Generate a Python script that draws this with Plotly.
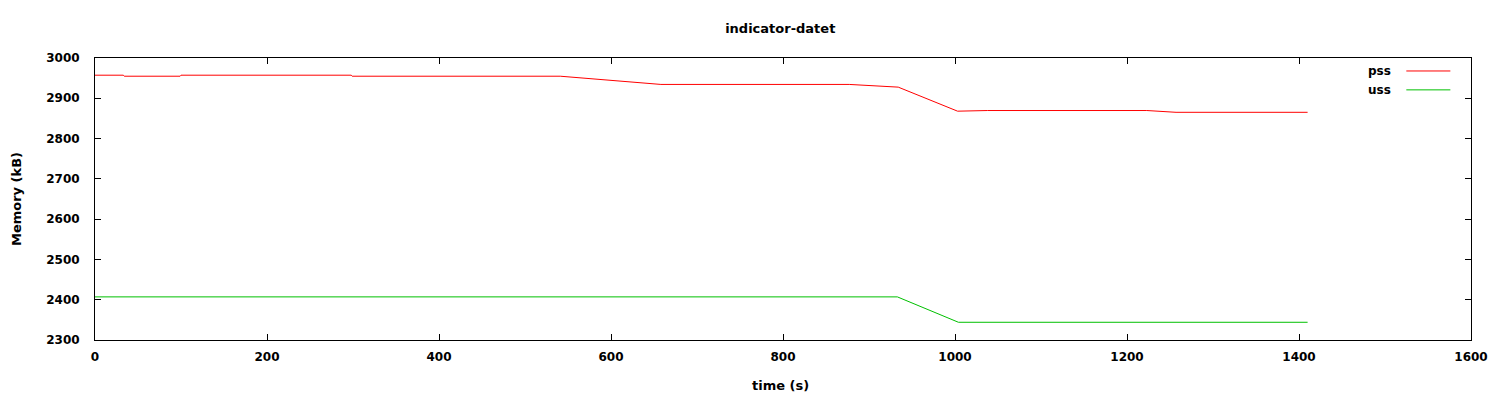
import plotly.graph_objects as go

title = "indicator-datet"
x_label = "time (s)"
y_label = "Memory (kB)"
series_names = ["pss", "uss"]

pss_t = [0, 33, 34, 99, 100, 298, 299, 541, 658, 877, 934, 1003, 1038, 1223, 1257, 1410]
pss_v = [2957.3, 2957.3, 2954.8, 2954.8, 2957.3, 2957.3, 2954.8, 2954.8, 2934.4, 2934.4, 2927.7, 2868, 2869.6, 2869.6, 2865.2, 2865.2]

uss_t = [0, 933, 1004, 1410]
uss_v = [2407, 2407, 2344, 2344]

x_ticks = [0, 200, 400, 600, 800, 1000, 1200, 1400, 1600]
y_ticks = [2300, 2400, 2500, 2600, 2700, 2800, 2900, 3000]

colors = ["#ff0000", "#00c000"]
font = "DejaVu Sans"

fig = go.Figure()
fig.add_trace(go.Scatter(x=pss_t, y=pss_v, mode="lines", name=series_names[0],
                         line=dict(color=colors[0], width=1), showlegend=False))
fig.add_trace(go.Scatter(x=uss_t, y=uss_v, mode="lines", name=series_names[1],
                         line=dict(color=colors[1], width=1), showlegend=False))

axis_common = dict(showline=True, linecolor="black", linewidth=1, mirror="allticks",
                   ticks="inside", ticklen=6, tickcolor="black", showgrid=False, zeroline=False,
                   automargin=False,
                   tickfont=dict(family=font, size=12, color="black", weight="bold"))

title_font = dict(family=font, size=13, color="black", weight="bold")

fig.update_xaxes(range=[0, 1600], tickvals=x_ticks, ticktext=[str(v) for v in x_ticks],
                 ticklabelstandoff=6, **axis_common)
fig.update_yaxes(range=[2300, 3000], tickvals=y_ticks, ticktext=[str(v) for v in y_ticks],
                 ticklabelstandoff=12, **axis_common)

# axis titles
fig.add_annotation(x=0.498, y=-0.163, xref="paper", yref="paper", text=x_label, showarrow=False,
                   xanchor="center", yanchor="middle", font=title_font)
fig.add_annotation(x=-0.0574, y=0.5, xref="paper", yref="paper", text=y_label, showarrow=False,
                   xanchor="center", yanchor="middle", textangle=-90, font=title_font)

# gnuplot-style legend: text right-aligned, line sample to the right
leg_y = [0.954, 0.887]
for name, c, yy in zip(series_names, colors, leg_y):
    fig.add_annotation(x=0.943, y=yy, xref="paper", yref="paper", text=name, showarrow=False,
                       xanchor="right", yanchor="middle",
                       font=dict(family=font, size=12, color="black", weight="bold"))
    fig.add_shape(type="line", xref="paper", yref="paper", x0=0.953, x1=0.985, y0=yy, y1=yy,
                  line=dict(color=c, width=1))

fig.update_layout(
    width=1500, height=400,
    margin=dict(l=87, r=37, t=50, b=68),
    paper_bgcolor="white", plot_bgcolor="white",
    title=dict(text=title, x=0.498, xref="paper", y=0.95, yanchor="middle",
               font=title_font),
    showlegend=False,
)

fig.write_html("out.html")
